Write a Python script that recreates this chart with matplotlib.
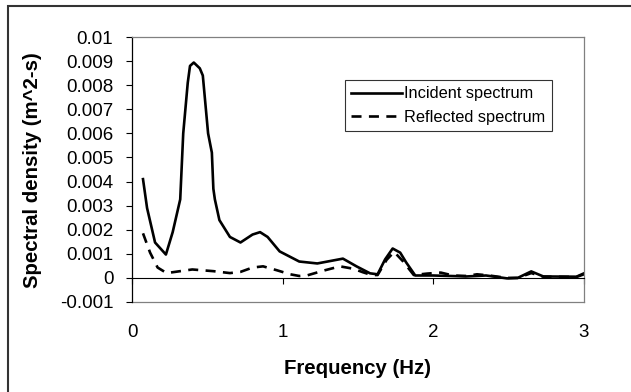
# plot.py - incident and reflected wave spectra

import matplotlib.pyplot as plt
from matplotlib.patches import Rectangle

plt.rcParams["font.family"] = ["Liberation Sans", "DejaVu Sans"]

# Incident spectrum (solid line)
freq_inc = [0.073, 0.10, 0.153, 0.225, 0.27, 0.32, 0.34, 0.37, 0.385, 0.41,
            0.45, 0.47, 0.505, 0.53, 0.54, 0.55, 0.58, 0.65, 0.72, 0.80,
            0.85, 0.90, 0.98, 1.11, 1.23, 1.40, 1.49, 1.58, 1.63, 1.68,
            1.73, 1.78, 1.82, 1.88, 2.00, 2.22, 2.35, 2.49, 2.56, 2.65,
            2.73, 2.95, 3.00]
incident = [0.0041, 0.0029, 0.00147, 0.00097, 0.0019, 0.00326, 0.0060, 0.0081,
            0.0088, 0.00894, 0.0087, 0.0084, 0.0060, 0.0052, 0.0037, 0.00326,
            0.0024, 0.0017, 0.00147, 0.0018, 0.0019, 0.0017, 0.0011, 0.00068,
            0.0006, 0.0008, 0.00048, 0.00019, 0.00015, 0.00077, 0.00122,
            0.00105, 0.00064, 0.0001, 0.0001, 0.00006, 0.0001, -0.00002,
            0.0, 0.00027, 0.00006, 0.00005, 0.00019]

# Reflected spectrum (dashed line)
freq_ref = [0.073, 0.12, 0.17, 0.23, 0.32, 0.40, 0.54, 0.65, 0.72, 0.80,
            0.87, 0.96, 1.05, 1.11, 1.16, 1.27, 1.38, 1.47, 1.53, 1.59,
            1.63, 1.69, 1.74, 1.80, 1.87, 1.96, 2.05, 2.13, 2.22, 2.29,
            2.37, 2.49, 2.56, 2.65, 2.73, 2.95, 3.00]
reflected = [0.00185, 0.00105, 0.00043, 0.0002, 0.00028, 0.00035, 0.00028,
             0.0002, 0.00025, 0.00043, 0.00048, 0.00032, 0.00015, 0.00008,
             0.0001, 0.0003, 0.00048, 0.00038, 0.00024, 0.00012, 0.00012,
             0.00075, 0.00108, 0.00068, 0.00012, 0.00018, 0.00022, 0.0001,
             0.00008, 0.00015, 0.0001, 0.0, 0.0, 0.0002, 0.00005, 0.00004,
             0.00015]

x_ticks = [0, 1, 2, 3]
y_ticks = [-0.001, 0, 0.001, 0.002, 0.003, 0.004, 0.005, 0.006, 0.007,
           0.008, 0.009, 0.01]
y_tick_labels = ["-0.001", "0", "0.001", "0.002", "0.003", "0.004", "0.005",
                 "0.006", "0.007", "0.008", "0.009", "0.01"]

fig = plt.figure(figsize=(6.31, 3.92), dpi=100)
ax = fig.add_axes([0.2092, 0.2296, 0.7163, 0.676])

ax.plot(freq_inc, incident, color="black", lw=1.9, label="Incident spectrum")
ax.plot(freq_ref, reflected, color="black", lw=1.9, linestyle=(0, (3.8, 2.8)),
        label="Reflected spectrum")

ax.set_xlim(0, 3)
ax.set_ylim(-0.001, 0.01)

# y axis
ax.set_yticks(y_ticks)
ax.set_yticklabels(y_tick_labels, fontsize=13.5)
ax.tick_params(axis="y", length=4.5, width=0.8, pad=9)

# x axis crosses at zero, labels sit below the plot box
ax.spines["bottom"].set_position(("data", 0))
ax.spines["bottom"].set_linewidth(0.8)
ax.set_xticks(x_ticks)
ax.tick_params(axis="x", labelbottom=False, length=4.5, width=0.8, direction="out")

sec = ax.secondary_xaxis("bottom")
sec.set_xticks(x_ticks)
sec.set_xticklabels([str(t) for t in x_ticks], fontsize=13.5)
sec.tick_params(length=0, pad=16)
sec.spines["bottom"].set_color("#808080")
sec.spines["bottom"].set_linewidth(0.9)

for side in ["top", "right"]:
    ax.spines[side].set_color("#808080")
    ax.spines[side].set_linewidth(0.9)
ax.spines["left"].set_linewidth(0.9)

fig.text(33 / 631, 1 - 170 / 392, "Spectral density (m^2-s)", rotation=90,
         fontsize=14.7, fontweight="bold", ha="center", va="center")
fig.text(358 / 631, 1 - 368 / 392, "Frequency (Hz)",
         fontsize=14.7, fontweight="bold", ha="center", va="center")

leg = ax.legend(loc="upper left", bbox_to_anchor=(0.471, 0.838), borderaxespad=0,
                fancybox=False, frameon=True, fontsize=11.8, handlelength=3.1,
                handletextpad=0.1, borderpad=0.4, labelspacing=0.5)
leg.get_frame().set_edgecolor("black")
leg.get_frame().set_linewidth(0.8)

# outer chart border (cropped at right and bottom)
fig.add_artist(Rectangle((7.5 / 631, -0.1), 1.2, 1.1 - 6.5 / 392,
                         transform=fig.transFigure, fill=False,
                         edgecolor="#333333", linewidth=1.5))

fig.savefig("out.png", dpi=100)
